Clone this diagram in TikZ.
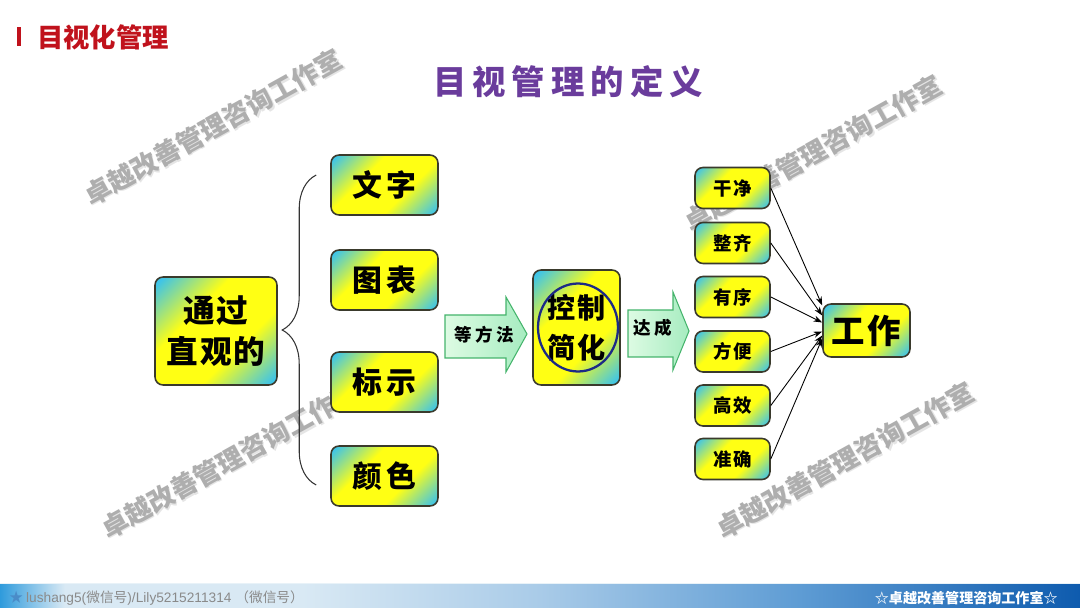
\documentclass[tikz,border=0pt]{standalone}
\usepackage{fontspec}
\setmainfont{Noto Sans CJK SC}
\newfontfamily\latinfont{Liberation Sans}
\usepackage{tikz}
\usetikzlibrary{arrows.meta,positioning,calc,decorations.pathreplacing}
\definecolor{boxcyan}{HTML}{3EC4E8}
\definecolor{boxyellow}{HTML}{FFFF14}
\definecolor{boxline}{HTML}{3A3A2C}
\definecolor{headred}{HTML}{C0121C}
\definecolor{titlepurple}{HTML}{6A3C9C}
\definecolor{arrowgreen}{HTML}{45B46C}
\definecolor{mintlight}{HTML}{DDFBE3}
\definecolor{mintdark}{HTML}{A6ECC0}
\definecolor{ringblue}{HTML}{1C2A86}
\definecolor{markgray}{HTML}{AEAEAE}
\definecolor{footgray}{HTML}{8A8A8A}
\definecolor{starblue}{HTML}{4A8CC8}
\definecolor{bar0}{HTML}{2F9BDC}
\definecolor{bar1}{HTML}{D9E9F4}
\definecolor{bar2}{HTML}{A9CBE8}
\definecolor{bar3}{HTML}{5E9CD4}
\definecolor{bar4}{HTML}{0E5BAE}
\pgfdeclarehorizontalshading{boxgrad}{100bp}{color(0bp)=(boxcyan); color(17bp)=(boxcyan); color(38bp)=(boxyellow); color(62bp)=(boxyellow); color(83bp)=(boxcyan); color(100bp)=(boxcyan)}
\pgfdeclarehorizontalshading{barshade}{100bp}{color(0bp)=(bar0); color(25bp)=(bar0); color(28bp)=(bar1); color(39bp)=(bar1); color(50bp)=(bar2); color(62bp)=(bar3); color(75bp)=(bar4); color(100bp)=(bar4)}

\begin{document}
\begin{tikzpicture}[x=0.02cm,y=-0.02cm,
  gbox/.style={draw=boxline,line width=0.9pt,rounded corners=0.16cm,shading=boxgrad,shading angle=-45,align=center,inner sep=0pt},
  midbox/.style={minimum width=2.14cm,minimum height=1.2cm,font=\fontsize{17pt}{20pt}\selectfont\bfseries\addfontfeature{LetterSpace=16}},
  smallbox/.style={minimum width=1.5cm,minimum height=0.82cm,font=\fontsize{10.5pt}{12pt}\selectfont\bfseries\addfontfeature{LetterSpace=10}},
  blockarrow/.style={draw=arrowgreen,line width=0.6pt,left color=mintlight,right color=mintdark},
  arrowtext/.style={font=\fontsize{10pt}{12pt}\selectfont\bfseries\addfontfeature{LetterSpace=20}},
  wmark/.style={rotate=29,text=markgray,font=\fontsize{15pt}{18pt}\selectfont\bfseries},
  link/.style={-{Stealth[length=5pt,width=3.5pt]},line width=0.5pt}]
  \useasboundingbox (0,0) rectangle (1080,608);

  % watermarks
  \foreach \x/\y in {213/127,813/153,230/460,845/460}{
    \node[wmark,text=black!10] (shade-\x) at (\x+1.5,\y+1.5) {卓越改善管理咨询工作室};
    \node[wmark] (mark-\x) at (\x,\y) {卓越改善管理咨询工作室};
  }

  \fill[headred] (17,27) rectangle (21,46);
  \node[font=\fontsize{15pt}{18pt}\selectfont\bfseries,text=headred] (head) at (103,37) {目视化管理};
  \node[font=\fontsize{19pt}{22pt}\selectfont\bfseries\addfontfeature{LetterSpace=18},text=titlepurple] (title) at (568,82) {目视管理的定义};

  \node[gbox,minimum width=2.44cm,minimum height=2.16cm,font=\fontsize{18pt}{23pt}\selectfont\bfseries\addfontfeature{LetterSpace=6}] (via) at (216,331) {通过\\直观的};
  \foreach \name/\txt/\y in {word/文字/185,chart/图表/280,sign/标示/382,hue/颜色/476}{
    \node[gbox,midbox] (\name) at (384.5,\y) {\txt};
  }
  \draw[line width=0.6pt,black!80,decorate,decoration={brace,amplitude=0.68cm}]
    ($(hue.west)+(-14,9)$) -- ($(word.west)+(-14,-10)$);

  \shade[blockarrow] (445,315) -- (506,315) -- (506,297) -- (527,334) -- (506,372) -- (506,358) -- (445,358) -- cycle;
  \node[arrowtext] (method) at (484,335) {等方法};

  \node[gbox,minimum width=1.74cm,minimum height=2.3cm,font=\fontsize{16pt}{23pt}\selectfont\bfseries\addfontfeature{LetterSpace=6}] (ctrl) at (576.5,327.5) {控制\\简化};
  \draw[ringblue,line width=1.3pt] ([xshift=0.03cm]ctrl.center) ellipse [x radius=0.8cm,y radius=0.88cm];

  \shade[blockarrow] (628,310) -- (673,310) -- (673,292) -- (689,331) -- (673,370) -- (673,357) -- (628,357) -- cycle;
  \node[arrowtext] (reach) at (653,328) {达成};

  \foreach \name/\txt/\y in {clean/干净/188,tidy/整齐/243,order/有序/297,handy/方便/351.5,fast/高效/405.5,exact/准确/459}{
    \node[gbox,smallbox] (\name) at (732.5,\y) {\txt};
  }
  \node[gbox,minimum width=1.74cm,minimum height=1.06cm,font=\fontsize{19pt}{22pt}\selectfont\bfseries\addfontfeature{LetterSpace=8}] (work) at (866.5,330.5) {工作};
  \foreach \name/\dy in {clean/-25,tidy/-15,order/-8,handy/1,fast/5,exact/8}{
    \draw[link] (\name.east) -- ($(work.west)+(0,\dy)$);
  }

  % footer bar
  \shade[shading=barshade] (0,583) rectangle (1080,608);
  \draw[bar1!60!white,line width=0.6pt] (0,583.5) -- (1080,583.5);
  \node[anchor=west,inner sep=0pt,text=footgray,font=\fontsize{7.8pt}{9pt}\selectfont] (wechat) at (9,598)
    {{\color{starblue}★} {\latinfont lushang5(}微信号{\latinfont )/Lily5215211314 }（微信号）};
  \node[anchor=east,inner sep=0pt,text=white,font=\fontsize{8pt}{9pt}\selectfont\bfseries] (studio) at (1058,598) {☆卓越改善管理咨询工作室☆};
\end{tikzpicture}
\end{document}
